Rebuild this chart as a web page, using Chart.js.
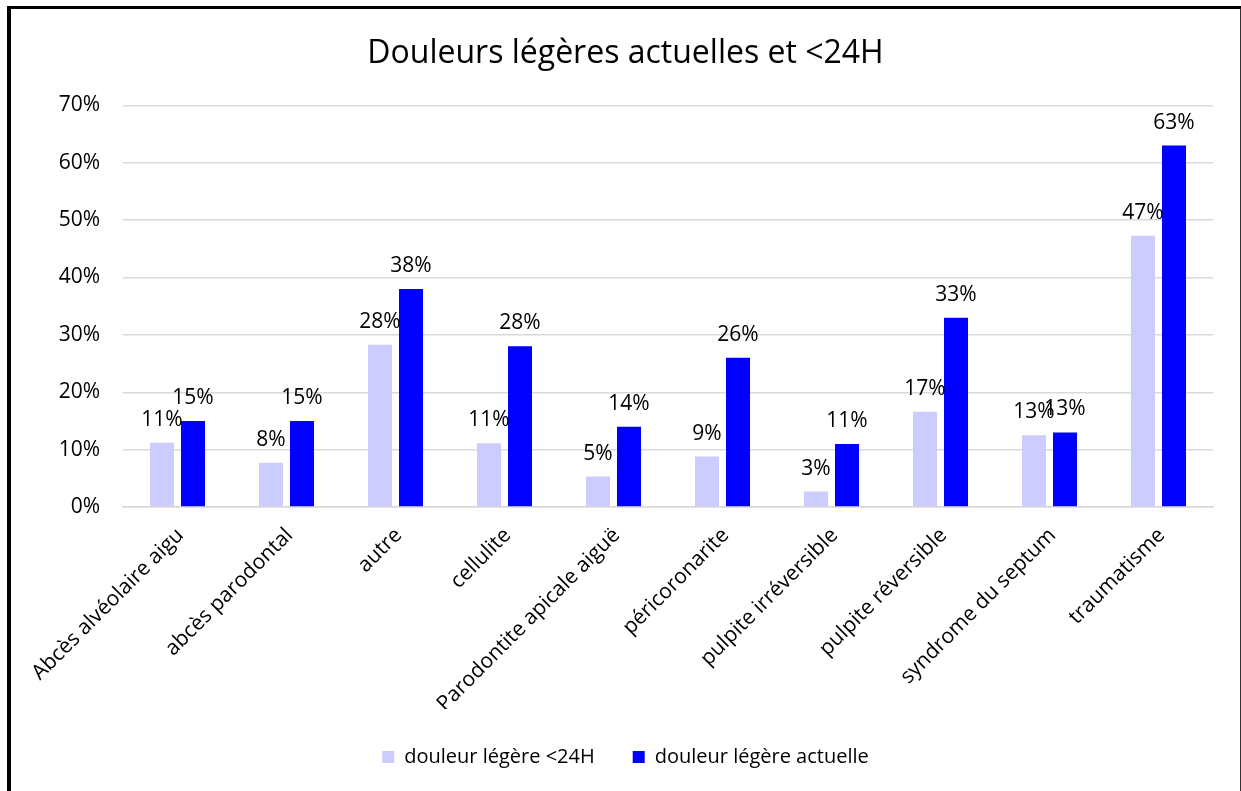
<!DOCTYPE html>
<html>
<head>
<meta charset="utf-8">
<script src="https://cdn.jsdelivr.net/npm/chart.js@4/dist/chart.umd.min.js"></script>
<style>
  html, body { margin: 0; padding: 0; background: #fff; overflow: hidden; }
  #frame {
    position: absolute; left: 7px; top: 6px;
    width: 1229px; height: 800px;
    border-top: 3px solid #000; border-left: 4px solid #000; border-right: 2px solid #333;
  }
  #box { position: relative; width: 1229px; height: 782px; }
</style>
</head>
<body>
<div id="frame"><div id="box"><canvas id="chart"></canvas></div></div>
<script>
// Données du graphique
const categories = ['Abcès alvéolaire aigu', 'abcès parodontal', 'autre', 'cellulite',
  'Parodontite apicale aiguë', 'péricoronarite', 'pulpite irréversible',
  'pulpite réversible', 'syndrome du septum', 'traumatisme'];
const douleurMoins24H = [0.112, 0.077, 0.283, 0.111, 0.053, 0.088, 0.027, 0.166, 0.125, 0.473];
const douleurActuelle = [0.15, 0.15, 0.38, 0.28, 0.14, 0.26, 0.11, 0.33, 0.13, 0.63];
const yTicks = [0, 0.1, 0.2, 0.3, 0.4, 0.5, 0.6, 0.7];

const fontFamily = '"Open Sans", Lato, sans-serif';
const pct = v => Math.round(v * 100) + '%';

// Étiquettes de valeur au-dessus des barres
const valueLabels = {
  id: 'valueLabels',
  afterDatasetsDraw(chart) {
    const ctx = chart.ctx;
    ctx.save();
    ctx.font = '21px ' + fontFamily;
    ctx.fillStyle = '#000';
    ctx.textAlign = 'center';
    ctx.textBaseline = 'alphabetic';
    chart.data.datasets.forEach((ds, i) => {
      chart.getDatasetMeta(i).data.forEach((bar, j) => {
        ctx.fillText(pct(ds.data[j]), bar.x, bar.y - 17);
      });
    });
    ctx.restore();
  }
};

new Chart(document.getElementById('chart'), {
  type: 'bar',
  data: {
    labels: categories,
    datasets: [
      { label: 'douleur légère <24H', data: douleurMoins24H, backgroundColor: '#ccccff' },
      { label: 'douleur légère actuelle', data: douleurActuelle, backgroundColor: '#0000ff' }
    ]
  },
  options: {
    responsive: true,
    maintainAspectRatio: false,
    animation: false,
    categoryPercentage: 0.569,
    barPercentage: 0.774,
    layout: { padding: { left: 0, right: 0, top: 0, bottom: 14 } },
    plugins: {
      title: {
        display: true,
        text: 'Douleurs légères actuelles et <24H',
        color: '#000',
        font: { family: fontFamily, size: 32, weight: 'normal', lineHeight: 1.2 },
        padding: { top: 26, bottom: 32 }
      },
      legend: {
        position: 'bottom',
        labels: {
          color: '#000',
          font: { family: fontFamily, size: 20 },
          boxWidth: 12,
          boxHeight: 12,
          padding: 38
        }
      },
      tooltip: { enabled: false }
    },
    scales: {
      x: {
        grid: { display: false },
        border: { color: '#d9d9d9', width: 1.5 },
        ticks: {
          color: '#000',
          font: { family: fontFamily, size: 21 },
          minRotation: 45,
          maxRotation: 45,
          padding: 8,
          labelOffset: 3
        },
        afterFit(scale) { scale.height = 202; }
      },
      y: {
        min: 0,
        max: 0.7,
        border: { display: false },
        grid: { color: '#d9d9d9', lineWidth: 1.5, drawTicks: false },
        afterBuildTicks(scale) { scale.ticks = yTicks.map(v => ({ value: v })); },
        ticks: {
          color: '#000',
          font: { family: fontFamily, size: 21 },
          padding: 23,
          callback: v => pct(v)
        },
        afterFit(scale) { scale.width = 112; }
      },
      // marge droite vide, pour garder le titre centré sur toute la largeur
      marge: {
        type: 'linear',
        position: 'right',
        ticks: { display: false },
        grid: { display: false },
        border: { display: false },
        afterFit(scale) { scale.width = 27; }
      }
    }
  },
  plugins: [valueLabels]
});
</script>
</body>
</html>
